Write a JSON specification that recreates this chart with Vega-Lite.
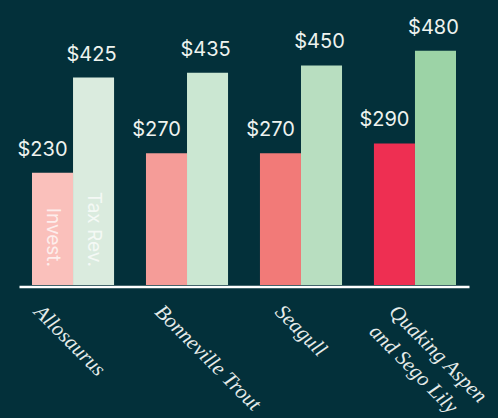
{
  "$schema": "https://vega.github.io/schema/vega-lite/v6.json",
  "width": 450,
  "height": 244,
  "autosize": {"type": "none"},
  "padding": {"left": 19, "top": 41, "right": 29, "bottom": 133},
  "background": "#03303A",
  "config": {"view": {"stroke": null}},
  "title": {
    "text": "in Billions",
    "anchor": "start",
    "frame": "group",
    "font": "Inter",
    "fontSize": 18,
    "fontWeight": "normal",
    "color": "#D5DDDC",
    "baseline": "alphabetic",
    "offset": 16,
    "dx": 5
  },
  "data": {
    "values": [
      {"category": "Allosaurus", "series": "Invest.", "value": 230, "key": "A-I", "note": "Invest."},
      {"category": "Allosaurus", "series": "Tax Rev.", "value": 425, "key": "A-T", "note": "Tax Rev."},
      {"category": "Bonneville  Trout", "series": "Invest.", "value": 270, "key": "B-I"},
      {"category": "Bonneville  Trout", "series": "Tax Rev.", "value": 435, "key": "B-T"},
      {"category": "Seagull", "series": "Invest.", "value": 270, "key": "S-I"},
      {"category": "Seagull", "series": "Tax Rev.", "value": 450, "key": "S-T"},
      {"category": "Quaking Aspen and Sego Lily", "series": "Invest.", "value": 290, "key": "Q-I"},
      {"category": "Quaking Aspen and Sego Lily", "series": "Tax Rev.", "value": 480, "key": "Q-T"}
    ]
  },
  "encoding": {
    "x": {
      "field": "category",
      "type": "nominal",
      "sort": null,
      "scale": {"paddingInner": 0.28, "paddingOuter": 0.114},
      "axis": {
        "title": null,
        "labelAngle": 45,
        "labelAlign": "left",
        "labelBaseline": "top",
        "labelFont": "Liberation Serif",
        "labelFontStyle": "italic",
        "labelFontSize": 21,
        "labelColor": "#E6ECEA",
        "ticks": false,
        "tickSize": 0,
        "labelPadding": 14,
        "labelOffset": {
          "condition": [
            {"test": "datum.value === 'Allosaurus'", "value": -28},
            {"test": "datum.value === 'Bonneville  Trout'", "value": -21}
          ],
          "value": -15
        },
        "labelOverlap": false,
        "labelBound": false,
        "labelLimit": 0,
        "labelLineHeight": 28,
        "labelExpr": "datum.label == 'Quaking Aspen and Sego Lily' ? ['Quaking Aspen', 'and Sego Lily'] : datum.label",
        "domainColor": "#FFFFFF",
        "domainWidth": 2.5,
        "offset": 1.5,
        "grid": false
      }
    },
    "xOffset": {
      "field": "series",
      "type": "nominal",
      "sort": ["Invest.", "Tax Rev."],
      "scale": {"paddingInner": 0, "paddingOuter": 0}
    }
  },
  "layer": [
    {
      "mark": {"type": "bar"},
      "encoding": {
        "y": {
          "field": "value",
          "type": "quantitative",
          "scale": {"domain": [0, 500], "nice": false, "zero": true},
          "axis": null
        },
        "color": {
          "field": "key",
          "type": "nominal",
          "scale": {
            "domain": ["A-I", "A-T", "B-I", "B-T", "S-I", "S-T", "Q-I", "Q-T"],
            "range": ["#FAC0BB", "#DAEBDE", "#F59C98", "#CBE7D2", "#F27A78", "#B8DEC0", "#EE2F52", "#9CD3A6"]
          },
          "legend": null
        }
      }
    },
    {
      "transform": [{"filter": "datum.series === 'Invest.'"}],
      "mark": {"type": "text", "dx": -10, "dy": -17, "baseline": "alphabetic", "align": "center", "font": "Inter", "fontSize": 20, "color": "#EEF3EF"},
      "encoding": {
        "y": {"field": "value", "type": "quantitative"},
        "text": {"field": "value", "type": "quantitative", "format": "$d"}
      }
    },
    {
      "transform": [{"filter": "datum.series === 'Tax Rev.'"}],
      "mark": {"type": "text", "dx": -2, "dy": -17, "baseline": "alphabetic", "align": "center", "font": "Inter", "fontSize": 20, "color": "#EEF3EF"},
      "encoding": {
        "y": {"field": "value", "type": "quantitative"},
        "text": {"field": "value", "type": "quantitative", "format": "$d"}
      }
    },
    {
      "transform": [{"filter": "isValid(datum.note)"}],
      "mark": {"type": "text", "angle": 90, "align": "right", "baseline": "middle", "dx": -18, "font": "Inter", "fontSize": 19, "color": "#FFFFFF", "opacity": 0.72},
      "encoding": {
        "y": {"datum": 0, "type": "quantitative"},
        "text": {"field": "note", "type": "nominal"}
      }
    }
  ]
}
